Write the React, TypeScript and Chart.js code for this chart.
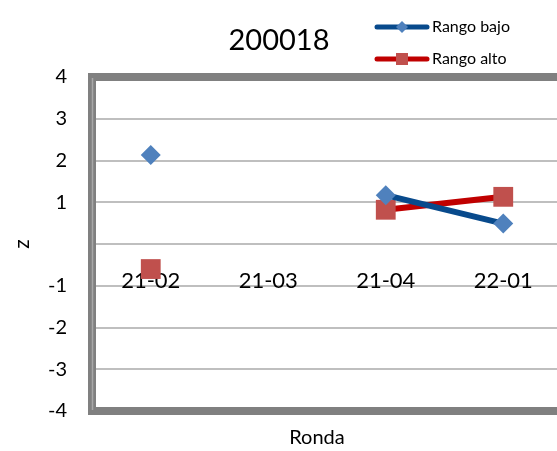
import React, { useEffect, useRef } from "react";
import { Chart, registerables } from "chart.js";

Chart.register(...registerables);

const categories = ["21-02", "21-03", "21-04", "22-01"];
const rangoBajo = [2.13, null, 1.17, 0.49];
const rangoAlto = [-0.6, null, 0.82, 1.13];
const seriesNames = ["Rango bajo", "Rango alto"];
const chartTitle = "200018";
const xTitle = "Ronda";
const yTitle = "z";

const FONT = "Lato, 'Open Sans', sans-serif";
const BLUE_LINE = "#084A8C";
const BLUE_MARK = "#4F81BD";
const RED_LINE = "#C00000";
const RED_MARK = "#C0504D";

const extrasPlugin = {
  id: "extras",
  beforeDatasetsDraw(chart: any) {
    const { ctx, chartArea } = chart;
    const { left, top, right, bottom } = chartArea;
    ctx.save();
    ctx.strokeStyle = "#808080";
    ctx.lineWidth = 8;
    ctx.strokeRect(left, top, right - left, bottom - top);
    ctx.strokeStyle = "#A8A8A8";
    ctx.lineWidth = 1.5;
    ctx.beginPath();
    ctx.moveTo(left + 0.5, top + 1);
    ctx.lineTo(left + 0.5, bottom - 1);
    ctx.stroke();
    ctx.restore();
  },
  afterDraw(chart: any) {
    const { ctx } = chart;
    ctx.save();
    ctx.fillStyle = "#000";
    ctx.textAlign = "center";
    ctx.textBaseline = "middle";
    ctx.font = `29px ${FONT}`;
    ctx.fillText(chartTitle, 279, 41);
    ctx.font = `20px ${FONT}`;
    ctx.fillText(xTitle, 317, 438);

    const rows = [
      { y: 27, line: BLUE_LINE, mark: BLUE_MARK, shape: "diamond", name: seriesNames[0] },
      { y: 59, line: RED_LINE, mark: RED_MARK, shape: "square", name: seriesNames[1] },
    ];
    rows.forEach((r) => {
      ctx.strokeStyle = r.line;
      ctx.lineWidth = 5;
      ctx.lineCap = "round";
      ctx.beginPath();
      ctx.moveTo(377, r.y);
      ctx.lineTo(427, r.y);
      ctx.stroke();
      ctx.fillStyle = r.mark;
      if (r.shape === "diamond") {
        ctx.beginPath();
        ctx.moveTo(402, r.y - 6);
        ctx.lineTo(408, r.y);
        ctx.lineTo(402, r.y + 6);
        ctx.lineTo(396, r.y);
        ctx.closePath();
        ctx.fill();
      } else {
        ctx.fillRect(396, r.y - 6, 12, 12);
      }
      ctx.fillStyle = "#000";
      ctx.textAlign = "left";
      ctx.font = `16px ${FONT}`;
      ctx.fillText(r.name, 432, r.y);
    });
    ctx.restore();
  },
};

export default function App() {
  const ref = useRef<HTMLCanvasElement | null>(null);
  useEffect(() => {
    if (!ref.current) return;
    const chart = new Chart(ref.current, {
      type: "line",
      data: {
        labels: categories,
        datasets: [
          {
            label: seriesNames[0],
            data: rangoBajo,
            borderColor: BLUE_LINE,
            backgroundColor: BLUE_MARK,
            borderWidth: 6,
            pointStyle: "rectRot",
            pointRadius: 10,
            pointBorderWidth: 0,
            pointBackgroundColor: BLUE_MARK,
            spanGaps: false,
          },
          {
            label: seriesNames[1],
            data: rangoAlto,
            borderColor: RED_LINE,
            backgroundColor: RED_MARK,
            borderWidth: 6,
            pointStyle: "rect",
            pointRadius: 14,
            pointBorderWidth: 0,
            pointBackgroundColor: RED_MARK,
            spanGaps: false,
          },
        ],
      },
      plugins: [extrasPlugin],
      options: {
        responsive: false,
        animation: false,
        layout: { padding: { top: 77, bottom: 40, left: 0, right: 0 } },
        plugins: {
          legend: { display: false },
          title: { display: false },
          tooltip: { enabled: false },
        },
        scales: {
          x: {
            type: "category",
            position: { y: 0 } as any,
            offset: true,
            grid: { display: false, drawTicks: false },
            border: { display: false },
            ticks: {
              color: "#000",
              font: { family: FONT, size: 22 },
              padding: 24,
              maxRotation: 0,
            },
          },
          y: {
            min: -4,
            max: 4,
            afterFit: (scale: any) => {
              scale.width = 92;
            },
            grid: { color: "#BFBFBF", lineWidth: 2, drawTicks: false },
            border: { display: false },
            ticks: {
              stepSize: 1,
              color: "#000",
              font: { family: FONT, size: 20 },
              padding: 25,
              callback: (v: any) => (v === 0 ? "" : String(v)),
            },
            title: {
              display: true,
              text: yTitle,
              color: "#000",
              font: { family: FONT, size: 21 },
              padding: { top: 10, bottom: 0 },
            },
          },
        },
      },
    });
    return () => chart.destroy();
  }, []);
  return (
    <div style={{ position: "absolute", left: 0, top: 0, width: 557, height: 451, overflow: "hidden", background: "#fff" }}>
      <canvas ref={ref} width={576} height={451} style={{ display: "block" }} />
    </div>
  );
}
